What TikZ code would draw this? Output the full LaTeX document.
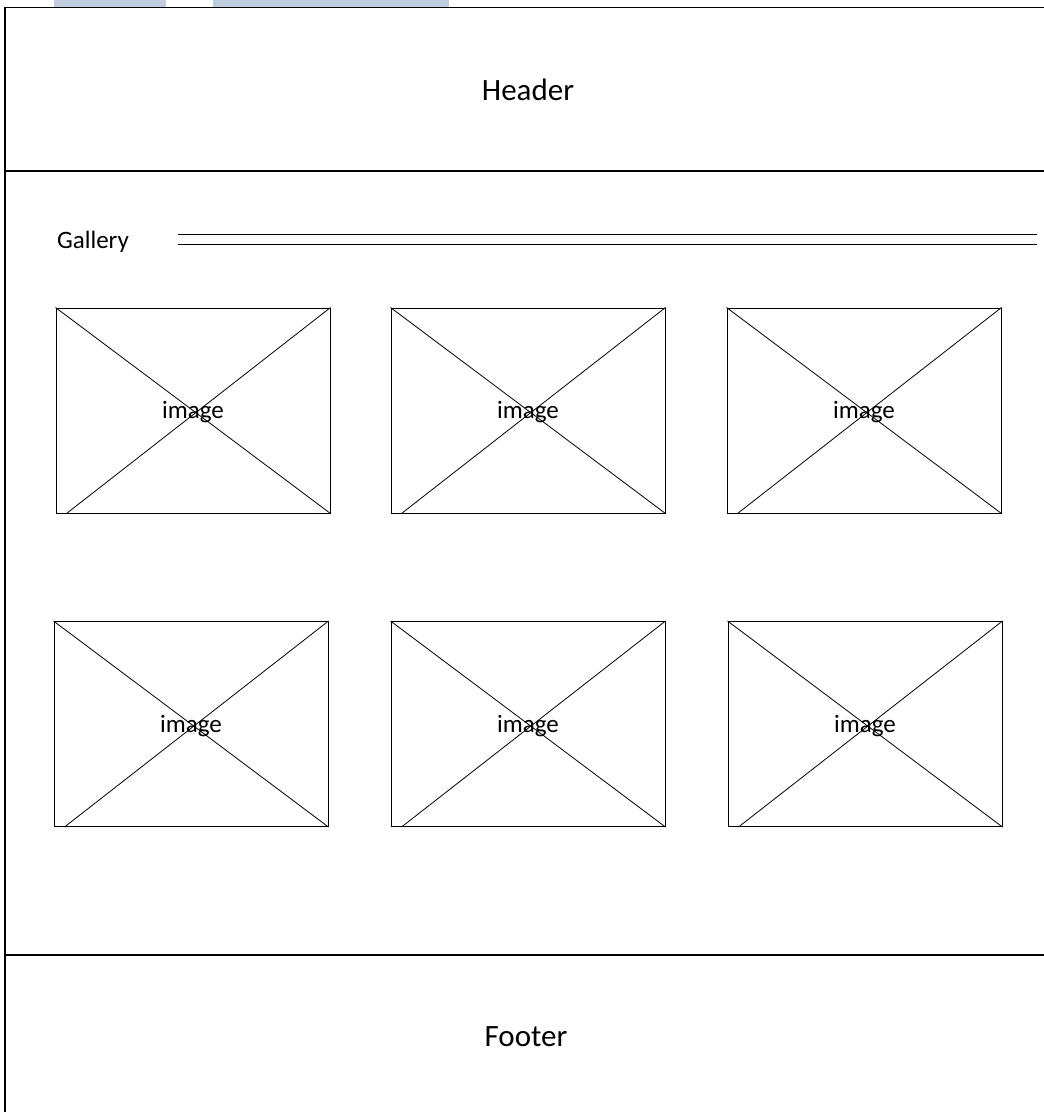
\documentclass[tikz,border=0pt]{standalone}
\usepackage{fontspec}
\setmainfont{Carlito}
\definecolor{barblue}{HTML}{BFCEDD}
\begin{document}
\begin{tikzpicture}[x=1pt,y=-1pt,
  frame/.style={line width=1.2pt, black},
  imgbox/.style={draw, line width=1pt, minimum width=274pt, minimum height=205pt, inner sep=0pt},
  diag/.style={line width=0.8pt},
  bigtext/.style={font=\fontsize{31}{36}\selectfont, inner sep=0pt},
  smalltext/.style={font=\fontsize{25}{29}\selectfont, inner sep=0pt}]
\useasboundingbox (0,0) rectangle (1044,1112);
\fill[white] (0,0) rectangle (1044,1112);
% faint bars at the top edge
\fill[barblue] (54,0) rectangle (166,7);
\fill[barblue] (213,0) rectangle (449,7);
% outer frame and dividers
\coordinate (tl) at (5,7.5);
\coordinate (tr) at (1044,7.5);
\coordinate (bl) at (5,1112);
\coordinate (hl) at (5,171);
\coordinate (hr) at (1044,171);
\coordinate (fl) at (5,955);
\coordinate (fr) at (1044,955);
\draw[frame] (tr) -- (tl) -- (bl);
\draw[frame] (hl) -- (hr);
\draw[frame] (fl) -- (fr);
\node[bigtext] (header) at (528,90) {Header};
\node[bigtext] (footer) at (526,1037) {Footer};
\node[smalltext] (gallery) at (93,242) {Gallery};
\coordinate (d1a) at (178,234.5);
\coordinate (d1b) at (1037,234.5);
\coordinate (d2a) at (178,244.3);
\coordinate (d2b) at (1037,244.3);
\draw[line width=1.2pt] (d1a) -- (d1b);
\draw[line width=1.2pt] (d2a) -- (d2b);
% image placeholders
\foreach \n/\cx/\cy in {a/193/410.5, b/528/410.5, c/864/410.5, d/191/724, e/528/724, f/865/724}{
  \node[imgbox] (\n) at (\cx,\cy) {};
  \draw[diag] (\n.north west) -- (\n.south east);
  \draw[diag] (\n.north east) -- ([xshift=11pt]\n.south west);
  \node[smalltext, yshift=-2pt] (\n t) at (\n.center) {image};
}
\end{tikzpicture}
\end{document}
